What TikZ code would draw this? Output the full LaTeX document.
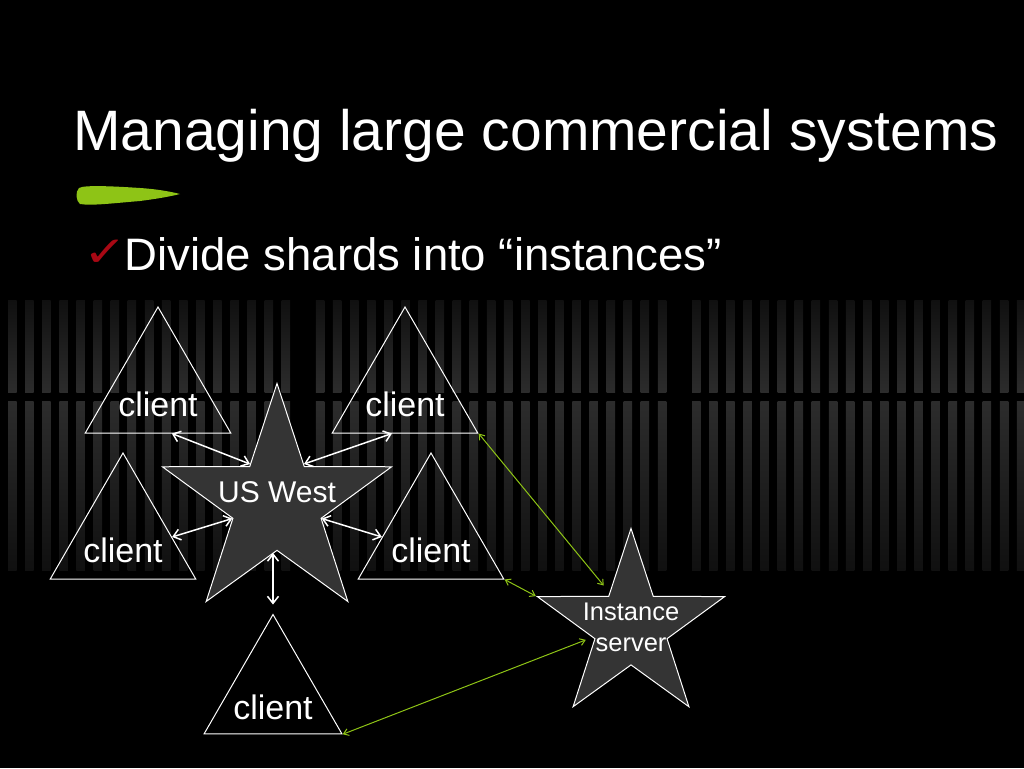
\documentclass[tikz,border=0pt]{standalone}
\usepackage{fontspec}
\setmainfont{Liberation Sans}
\newfontfamily\symfont{DejaVu Sans}
\usetikzlibrary{shapes.geometric,arrows.meta}

\definecolor{brushgreen}{RGB}{142,196,22}
\definecolor{starfill}{RGB}{52,52,52}
\definecolor{tickred}{RGB}{168,8,20}
\definecolor{stripe}{RGB}{44,44,44}
\definecolor{stripedark}{RGB}{16,16,16}

\tikzset{
    client/.style = {
        regular polygon,
        regular polygon sides=3,
        minimum size=168pt,
        inner sep=0pt,
        draw=white,
        line width=1pt,
        label={[text=white, font=\fontsize{34}{38}\selectfont, yshift=-13pt]center:client}
    },
    server/.style = {
        star,
        star points=5,
        star point ratio=2.6,
        inner sep=0pt,
        draw=white,
        line width=1pt,
        fill=starfill
    },
    warrow/.style = {
        white,
        line width=1.5pt,
        {Straight Barb[length=7pt,width=11pt]}-{Straight Barb[length=7pt,width=11pt]}
    },
    garrow/.style = {
        brushgreen,
        line width=1pt,
        {Straight Barb[length=5pt,width=7pt]}-{Straight Barb[length=5pt,width=7pt]}
    }
}

\begin{document}
\begin{tikzpicture}[x=1pt, y=-1pt]

\fill[black] (0,0) rectangle (1024,768);
\useasboundingbox (0,0) rectangle (1024,768);

% background stripes
\foreach \a/\b in {0/16,18/38,40/59} {
    \foreach \k in {\a,...,\b} {
        \shade[top color=stripedark, bottom color=stripe] ({8+17.1*\k},300) rectangle ++(8.5,92);
        \shade[top color=stripe, bottom color=stripedark] ({8+17.1*\k},401) rectangle ++(8.5,169);
    }
}

% title and bullet
\node (title) [anchor=base west, inner sep=0pt, text=white, font=\fontsize{57}{62}\selectfont] at (73,150) {Managing large commercial systems};
\fill[brushgreen] (79,188) .. controls (84,185) and (110,186) .. (140,188)
    .. controls (155,189) and (168,191) .. (180,194)
    .. controls (168,197) and (155,199) .. (140,201)
    .. controls (115,203) and (92,206) .. (80,204)
    .. controls (76,201) and (75,192) .. (79,188) -- cycle;
\node (tick) [anchor=base west, inner sep=0pt, text=tickred, font=\symfont\fontsize{42}{46}\selectfont] at (83,266) {\scalebox{1.25}[1]{✓}};
\node (bullet) [anchor=base west, inner sep=0pt, text=white, font=\fontsize{45.5}{50}\selectfont] at (124.5,270) {Divide shards into “instances”};

% clients
\node (tl) [client] at (158,391) {};
\node (tr) [client] at (405,391) {};
\node (ml) [client] at (123,537) {};
\node (mr) [client] at (431,537) {};
\node (bc) [client, minimum size=159pt] at (273,694) {};

% servers
\node (usw) [server, minimum size=241pt,
    label={[text=white, font=\fontsize{30}{34}\selectfont, yshift=12pt]center:US West}] at (277,504) {};
\node (inst) [server, minimum size=197pt,
    label={[text=white, font=\fontsize{25.5}{31}\selectfont, align=center]center:Instance\\server}] at (631,627) {};

% Arrows
\draw [warrow] (tl.-72) -- (usw.124);
\draw [warrow] (tr.-107) -- (usw.56);
\draw [warrow] (ml.0) -- (usw.198);
\draw [warrow] (mr.180) -- (usw.-18);
\draw [warrow, shorten <=2pt, shorten >=9pt] (usw.270 -| bc.corner 1) -- (bc.corner 1);
\draw [garrow, shorten >=9pt] (tr.corner 3) -- (inst.122);
\draw [garrow] (mr.corner 3) -- (inst.162);
\draw [garrow, shorten >=7pt] (bc.corner 3) -- (inst.195);

\end{tikzpicture}
\end{document}
